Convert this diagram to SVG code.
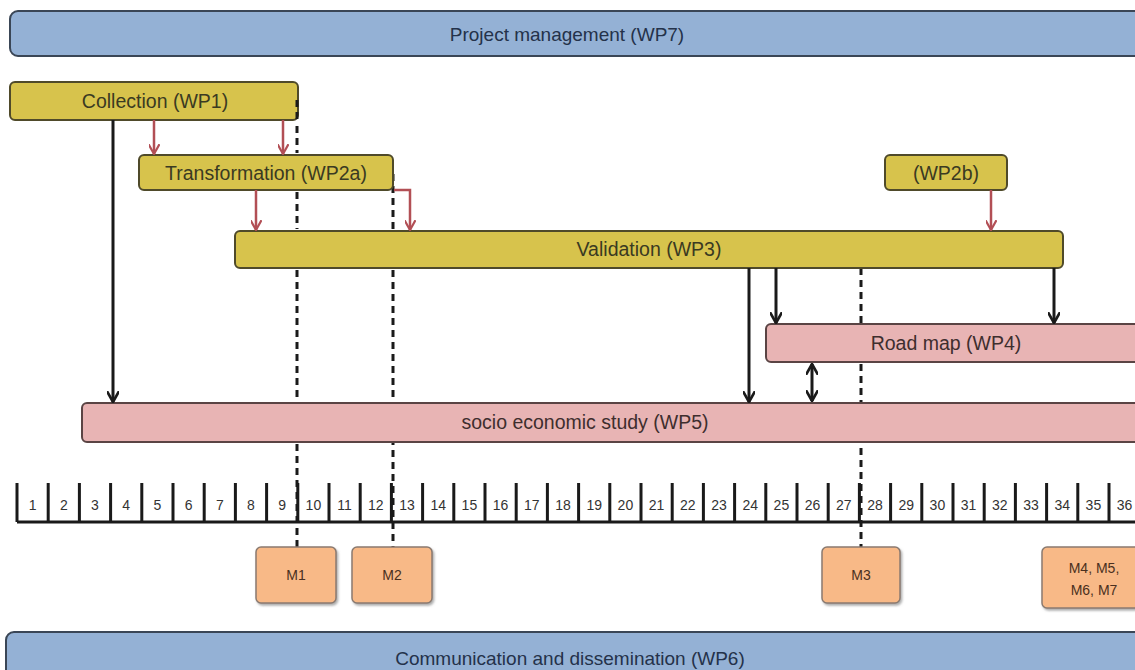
<svg xmlns="http://www.w3.org/2000/svg" width="1135" height="670" viewBox="0 0 1135 670">
<style>
text{font-family:"Liberation Sans",Arial,sans-serif;text-anchor:middle}
.blue{fill:#94b1d5;stroke:#3a4656;stroke-width:2}
.yel{fill:#d7c34c;stroke:#4f4a2a;stroke-width:2}
.pink{fill:#e8b4b4;stroke:#5a4444;stroke-width:2}
.ms{fill:#f8b987;stroke:#8a7a70;stroke-width:1.5;filter:url(#sh)}
.lbl{font-size:19.5px;fill:#3a3a22}
.lblb{font-size:19px;fill:#24324a}
.lblp{font-size:19.5px;fill:#3e2e2e}
.num{font-size:14px;fill:#333}
.mst{font-size:14px;fill:#4a3020}
.red{stroke:#b24f55;stroke-width:2.5;fill:none;marker-end:url(#ar)}
.blk{stroke:#1a1a1a;stroke-width:3;fill:none;marker-end:url(#ab)}
.dash{stroke:#1a1a1a;stroke-width:3;stroke-dasharray:7,5;fill:none}
.tick{stroke:#1a1a1a;stroke-width:3}
</style>
<defs>
<marker id="ar" viewBox="0 0 10 10" refX="9" refY="5" markerWidth="11" markerHeight="11" orient="auto" markerUnits="userSpaceOnUse">
<path d="M0,0 L9,5 L0,10" fill="none" stroke="#b24f55" stroke-width="2"/>
</marker>
<marker id="ab" viewBox="0 0 10 10" refX="9" refY="5" markerWidth="12" markerHeight="12" orient="auto" markerUnits="userSpaceOnUse">
<path d="M0,0 L9,5 L0,10" fill="none" stroke="#1a1a1a" stroke-width="2.2"/>
</marker>
<marker id="abs" viewBox="0 0 10 10" refX="1" refY="5" markerWidth="12" markerHeight="12" orient="auto" markerUnits="userSpaceOnUse">
<path d="M10,0 L1,5 L10,10" fill="none" stroke="#1a1a1a" stroke-width="2.2"/>
</marker>
<filter id="sh" x="-20%" y="-20%" width="140%" height="140%">
<feDropShadow dx="1.5" dy="2" stdDeviation="1.2" flood-color="#777" flood-opacity="0.6"/>
</filter>
</defs>

<g id="milestone-lines">
<path class="dash" d="M393,174 V547"/>
<path class="dash" d="M861,268 V547"/>
</g>

<g id="wp7"><rect class="blue" x="10" y="11" width="1140" height="45" rx="8"/><text class="lblb" x="567" y="41">Project management (WP7)</text></g>
<g id="wp1"><rect class="yel" x="10" y="82" width="288" height="38" rx="5"/><text class="lbl" x="155" y="108">Collection (WP1)</text></g>
<g id="wp2a"><rect class="yel" x="139" y="155" width="254" height="35" rx="5"/><text class="lbl" x="266" y="180">Transformation (WP2a)</text></g>
<g id="wp2b"><rect class="yel" x="885" y="155" width="122" height="35" rx="5"/><text class="lbl" x="946" y="180">(WP2b)</text></g>
<g id="wp3"><rect class="yel" x="235" y="231" width="828" height="37" rx="5"/><text class="lbl" x="649" y="256">Validation (WP3)</text></g>
<g id="wp4"><rect class="pink" x="766" y="324" width="380" height="38" rx="5"/><text class="lblp" x="946" y="350">Road map (WP4)</text></g>
<g id="wp5"><rect class="pink" x="82" y="403" width="1070" height="39" rx="5"/><text class="lblp" x="585" y="429">socio economic study (WP5)</text></g>

<g id="m1-line">
<path class="dash" d="M297,100 V120 M297,126 V153 M297,192 V229 M297,270 V401 M297,444 V547"/>
</g>

<g id="connectors">
<path class="red" d="M154,120 V154"/>
<path class="red" d="M283,120 V154"/>
<path class="red" d="M256,190 V230"/>
<path class="red" d="M394,190 H410 V230"/>
<path class="red" d="M991,190 V230"/>
<path class="blk" d="M113,120 V402"/>
<path class="blk" d="M749,268 V402"/>
<path class="blk" d="M776,268 V323"/>
<path class="blk" d="M1054,268 V323"/>
<path class="blk" d="M812,364 V401" style="marker-start:url(#abs)"/>
</g>

<g id="timeline">
<path stroke="#1a1a1a" stroke-width="3" d="M17,522 H1135"/>
<g class="tick">
<path d="M17,483V522M48.2,483V522M79.4,483V522M110.6,483V522M141.8,483V522M173,483V522M204.2,483V522M235.4,483V522M266.6,483V522M297.8,483V522M329,483V522M360.2,483V522M391.4,483V522M422.6,483V522M453.8,483V522M485,483V522M516.2,483V522M547.4,483V522M578.6,483V522M609.8,483V522M641,483V522M672.2,483V522M703.4,483V522M734.6,483V522M765.8,483V522M797,483V522M828.2,483V522M859.4,483V522M890.6,483V522M921.8,483V522M953,483V522M984.2,483V522M1015.4,483V522M1046.6,483V522M1077.8,483V522M1109,483V522"/>
</g>
<g class="num">
<text x="32.6" y="510">1</text><text x="63.8" y="510">2</text><text x="95" y="510">3</text><text x="126.2" y="510">4</text><text x="157.4" y="510">5</text><text x="188.6" y="510">6</text><text x="219.8" y="510">7</text><text x="251" y="510">8</text><text x="282.2" y="510">9</text><text x="313.4" y="510">10</text><text x="344.6" y="510">11</text><text x="375.8" y="510">12</text><text x="407" y="510">13</text><text x="438.2" y="510">14</text><text x="469.4" y="510">15</text><text x="500.6" y="510">16</text><text x="531.8" y="510">17</text><text x="563" y="510">18</text><text x="594.2" y="510">19</text><text x="625.4" y="510">20</text><text x="656.6" y="510">21</text><text x="687.8" y="510">22</text><text x="719" y="510">23</text><text x="750.2" y="510">24</text><text x="781.4" y="510">25</text><text x="812.6" y="510">26</text><text x="843.8" y="510">27</text><text x="875" y="510">28</text><text x="906.2" y="510">29</text><text x="937.4" y="510">30</text><text x="968.6" y="510">31</text><text x="999.8" y="510">32</text><text x="1031" y="510">33</text><text x="1062.2" y="510">34</text><text x="1093.4" y="510">35</text><text x="1124.6" y="510">36</text>
</g>
</g>

<g id="m1"><rect class="ms" x="256" y="547" width="80" height="56" rx="5"/><text class="mst" x="296" y="580">M1</text></g>
<g id="m2"><rect class="ms" x="352" y="547" width="80" height="56" rx="5"/><text class="mst" x="392" y="580">M2</text></g>
<g id="m3"><rect class="ms" x="822" y="547" width="78" height="56" rx="5"/><text class="mst" x="861" y="580">M3</text></g>
<g id="m4-7"><rect class="ms" x="1042" y="547" width="110" height="61" rx="5"/><text class="mst" x="1094" y="573">M4, M5,</text><text class="mst" x="1094" y="595">M6, M7</text></g>

<g id="wp6"><rect class="blue" x="6" y="632" width="1150" height="50" rx="8"/><text class="lblb" x="570" y="665">Communication and dissemination (WP6)</text></g>
</svg>
